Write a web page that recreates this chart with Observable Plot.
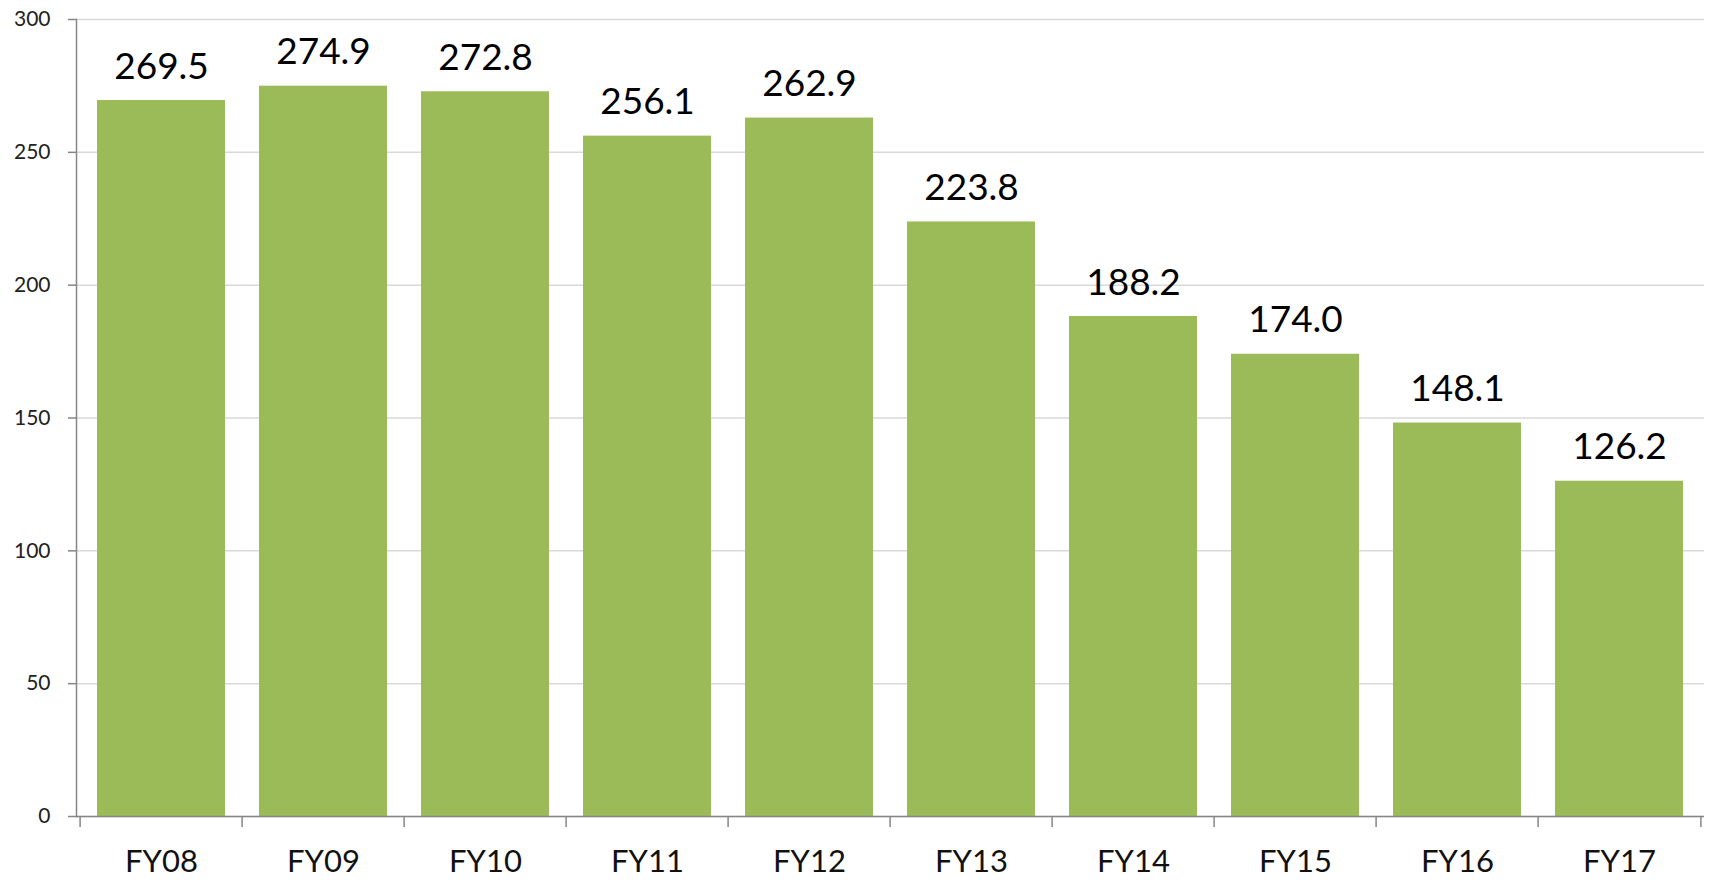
<!DOCTYPE html>
<html>
<head>
<meta charset="utf-8">
<script src="https://cdn.jsdelivr.net/npm/d3@7"></script>
<script src="https://cdn.jsdelivr.net/npm/@observablehq/plot@0.6"></script>
<style>
  html, body { margin: 0; padding: 0; background: #fff; overflow: hidden; width: 1709px; height: 880px; }
  #chart { width: 1709px; height: 880px; overflow: hidden; }
  #chart svg { display: block; max-width: none !important; width: 1709px; height: 880px; }
</style>
</head>
<body>
<div id="chart"></div>
<script>
const categories = ["FY08","FY09","FY10","FY11","FY12","FY13","FY14","FY15","FY16","FY17"];
const values = [269.5, 274.9, 272.8, 256.1, 262.9, 223.8, 188.2, 174.0, 148.1, 126.2];
const yTicks = [0, 50, 100, 150, 200, 250, 300];

const data = categories.map((c, i) => ({cat: c, value: values[i]}));

const W = 1709, H = 880;
const mL = 76, mR = 5, mT = 19, mB = 64;
const step = (W - mL - mR) / categories.length;
const innerH = H - mT - mB;
const font = "Lato, 'Open Sans', sans-serif";
const axisGray = "#868686";

const chart = Plot.plot({
  width: W,
  height: H,
  marginLeft: mL,
  marginRight: mR,
  marginTop: mT,
  marginBottom: mB,
  style: {fontFamily: font, background: "#fff", color: "#000"},
  x: {domain: categories, paddingInner: 0.21, paddingOuter: 0.105, label: null},
  y: {domain: [0, 300], label: null},
  marks: [
    Plot.gridY(yTicks, {stroke: "#d9d9d9", strokeOpacity: 1, strokeWidth: 1.5}),
    Plot.barY(data, {x: "cat", y: "value", fill: "#9bbb59"}),
    Plot.ruleY([0], {stroke: axisGray, strokeWidth: 1.5}),
    Plot.frame({anchor: "left", stroke: axisGray, strokeWidth: 1.5}),
    Plot.axisY(yTicks, {tickSize: 8, text: null, stroke: axisGray, strokeWidth: 1.5, label: null}),
    Plot.axisY(yTicks, {tickSize: 0, tickPadding: 26, fontSize: 21, fill: "#222", label: null}),
    Plot.axisX({tickSize: 0, tickPadding: 33, fontSize: 31, fill: "#111", label: null}),
    Plot.ruleX(categories, {x: d => d, dx: -step / 2, insetTop: innerH, insetBottom: -11, stroke: axisGray, strokeWidth: 1.5}),
    Plot.ruleX([categories[categories.length - 1]], {x: d => d, dx: step / 2, insetTop: innerH, insetBottom: -11, stroke: axisGray, strokeWidth: 1.5}),
    Plot.text(data, {x: "cat", y: "value", text: d => d.value.toFixed(1), dy: -22, lineAnchor: "bottom", fontSize: 37, fill: "#000"})
  ]
});
document.getElementById("chart").appendChild(chart);
</script>
</body>
</html>
